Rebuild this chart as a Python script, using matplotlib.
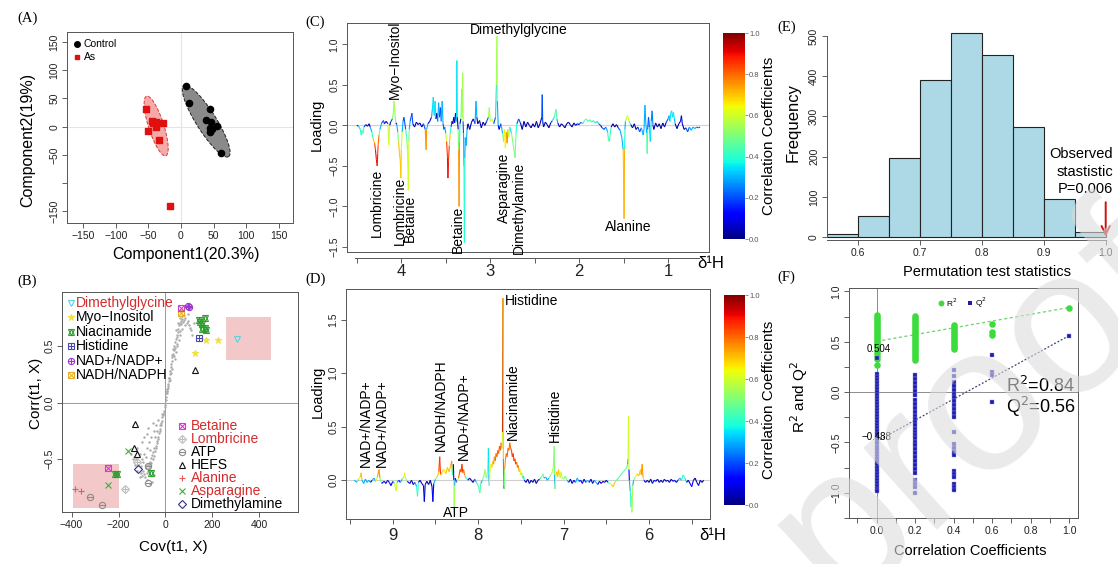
import numpy as np
import matplotlib
matplotlib.use("Agg")
import matplotlib.pyplot as plt
from matplotlib.collections import LineCollection
from matplotlib.patches import Rectangle
from matplotlib.colors import Normalize
from matplotlib.cm import ScalarMappable

plt.rcParams['font.family'] = ['Liberation Sans', 'DejaVu Sans']
plt.rcParams['axes.linewidth'] = 0.7

# ---------------- data ----------------
# (A) PCA scores
ctrl_x = [7, 13, 44, 39, 46, 56, 44, 44, 61, 48]
ctrl_y = [72, 42, 32, 12, 8, 1, -3, -9, -47, -5]
as_x = [-54, -44, -43, -39, -27, -38, -51, -34, -17]
as_y = [31, 10, 6, 9, 6, -1, -8, -23, -141]
# confidence ellipses: centre, half major axis, half minor axis
ell_ctrl = [(38.7, 9.9), (34.3, -63.1), (13.0, 9.2)]
ell_as = [(-38.1, 1.2), (14.75, -52.9), (11.1, 4.1)]

# (B) S-plot
cloud_x = [0, 2, -2, 4, -4, 6, -6, 8, -8, 10,
           -10, 12, -13, 14, -15, 16, -18, 18, -20, 20,
           -22, 22, -25, 24, -28, 27, -30, 30, -33, 33,
           35, 38, 40, 42, 45, 48, 50, 52, 55, 58,
           60, 62, 65, 68, 70, 72, 75, 78, 80, 85,
           90, 95, 100, 105, 110, 28, 32, 36, 44, 50,
           56, 64, 40, 26, 18, 24, 46, 54, 60, 48,
           70, 85, 95, 115, 120, 5, 9, 13, 3, 7,
           -35, -38, -40, -42, -45, -48, -50, -52, -55, -58,
           -60, -62, -65, -68, -70, -72, -75, -78, -80, -85,
           -90, -95, -100, -105, -110, -115, -120, -125, -130, -135,
           -140, -145, -60, -70, -80, -90, -100, -110, -50, -40,
           -30, -100, -90, -80, -120, -75, -55, -65, -85, -95,
           -105, -45, -35, -25, -15, -58, -68, -78, -88, -48]
cloud_y = [0.00, 0.02, -0.02, 0.05, -0.04, 0.08, -0.07, 0.10, -0.09, 0.13,
           -0.11, 0.16, -0.13, 0.19, -0.16, 0.22, -0.18, 0.25, -0.20, 0.28,
           -0.23, 0.31, -0.25, 0.34, -0.27, 0.37, -0.30, 0.40, -0.32, 0.43,
           0.46, 0.50, 0.48, 0.53, 0.56, 0.60, 0.58, 0.62, 0.65, 0.68,
           0.63, 0.70, 0.72, 0.69, 0.74, 0.76, 0.71, 0.73, 0.77, 0.75,
           0.70, 0.72, 0.68, 0.66, 0.64, 0.42, 0.47, 0.41, 0.45, 0.50,
           0.55, 0.60, 0.38, 0.30, 0.20, 0.26, 0.64, 0.70, 0.75, 0.52,
           0.65, 0.68, 0.78, 0.60, 0.70, 0.10, 0.15, 0.22, 0.08, 0.12,
           -0.36, -0.34, -0.40, -0.38, -0.43, -0.40, -0.47, -0.44, -0.50, -0.46,
           -0.53, -0.49, -0.56, -0.52, -0.58, -0.54, -0.60, -0.55, -0.62, -0.58,
           -0.63, -0.60, -0.65, -0.62, -0.66, -0.55, -0.60, -0.50, -0.55, -0.48,
           -0.50, -0.45, -0.30, -0.35, -0.40, -0.45, -0.50, -0.45, -0.25, -0.20,
           -0.15, -0.35, -0.30, -0.28, -0.40, -0.22, -0.18, -0.42, -0.48, -0.52,
           -0.56, -0.30, -0.25, -0.20, -0.10, -0.70, -0.72, -0.68, -0.66, -0.64]

b_lab = ['Dimethylglycine',
         'Myo−Inositol', 'Myo−Inositol', 'Myo−Inositol',
         'NADH/NADPH', 'Betaine', 'NAD+/NADP+', 'NAD+/NADP+',
         'Niacinamide', 'Niacinamide', 'Niacinamide', 'Niacinamide', 'Niacinamide',
         'Niacinamide', 'Niacinamide',
         'Niacinamide', 'Niacinamide', 'Niacinamide',
         'Histidine',
         'HEFS', 'HEFS', 'HEFS', 'HEFS',
         'Lombricine', 'Lombricine',
         'ATP', 'ATP', 'ATP', 'ATP',
         'Dimethylamine',
         'Asparagine', 'Asparagine',
         'Betaine',
         'Alanine', 'Alanine']
b_x = [305,
       173, 224, 128,
       67, 67, 94, 99,
       168, 146, 156, 170, 156,
       173, 142,
       -61, -213, -206,
       142,
       128, -131, -132, -121,
       -121, -173,
       -74, -74, -320, -270,
       -117,
       -161, -247,
       -244,
       -384, -362]
b_y = [0.563,
       0.55, 0.55, 0.44,
       0.79, 0.83, 0.85, 0.84,
       0.75, 0.71, 0.69, 0.66, 0.65,
       0.64, 0.73,
       -0.62, -0.63, -0.63,
       0.57,
       0.29, -0.185, -0.40, -0.45,
       -0.52, -0.76,
       -0.56, -0.71, -0.83, -0.90,
       -0.59,
       -0.43, -0.73,
       -0.58,
       -0.76, -0.78]
legend_up = ['Dimethylglycine', 'Myo−Inositol', 'Niacinamide', 'Histidine',
             'NAD+/NADP+', 'NADH/NADPH']
legend_low = ['Betaine', 'Lombricine', 'ATP', 'HEFS', 'Alanine', 'Asparagine',
              'Dimethylamine']
red_names = ['Dimethylglycine', 'Betaine', 'Lombricine', 'Alanine', 'Asparagine']
# highlighted regions (x0, x1, y0, y1)
regions = [(256, 452, 0.372, 0.754), (-394, -196, -0.93, -0.545)]

# (C) 1H NMR loading, 0.6-4.5 ppm
c_ppm = [4.50, 4.48, 4.46, 4.45, 4.44, 4.43, 4.42, 4.40, 4.38, 4.36,
         4.35, 4.33, 4.32, 4.30, 4.29, 4.28, 4.27, 4.265, 4.26, 4.25,
         4.24, 4.22, 4.20, 4.19, 4.17, 4.15, 4.14, 4.13, 4.12, 4.10,
         4.09, 4.08, 4.07, 4.06, 4.05, 4.04, 4.03, 4.02, 4.01, 4.005,
         4.00, 3.99, 3.98, 3.97, 3.96, 3.95, 3.94, 3.93, 3.92, 3.915,
         3.91, 3.90, 3.88, 3.87, 3.85, 3.83, 3.81, 3.79, 3.77, 3.75,
         3.73, 3.72, 3.715, 3.70, 3.68, 3.66, 3.65, 3.64, 3.63, 3.62,
         3.61, 3.60, 3.59, 3.58, 3.57, 3.56, 3.55, 3.54, 3.53, 3.52,
         3.51, 3.50, 3.49, 3.48, 3.475, 3.47, 3.46, 3.45, 3.44, 3.43,
         3.42, 3.41, 3.40, 3.39, 3.38, 3.375, 3.37, 3.36, 3.355, 3.35,
         3.345, 3.34, 3.33, 3.32, 3.315, 3.31, 3.305, 3.30, 3.295, 3.29,
         3.285, 3.28, 3.27, 3.26, 3.25, 3.23, 3.21, 3.19, 3.17, 3.16,
         3.15, 3.14, 3.12, 3.10, 3.08, 3.06, 3.04, 3.02, 3.01, 3.00,
         2.98, 2.96, 2.94, 2.93, 2.925, 2.92, 2.91, 2.90, 2.88, 2.86,
         2.85, 2.84, 2.83, 2.82, 2.81, 2.80, 2.79, 2.78, 2.76, 2.74,
         2.72, 2.71, 2.70, 2.68, 2.66, 2.64, 2.62, 2.60, 2.58, 2.56,
         2.54, 2.52, 2.50, 2.48, 2.46, 2.44, 2.42, 2.415, 2.41, 2.40,
         2.38, 2.36, 2.34, 2.32, 2.30, 2.28, 2.26, 2.25, 2.24, 2.22,
         2.20, 2.18, 2.16, 2.14, 2.12, 2.10, 2.08, 2.06, 2.04, 2.02,
         2.00, 1.98, 1.96, 1.94, 1.92, 1.90, 1.88, 1.86, 1.84, 1.82,
         1.80, 1.78, 1.76, 1.74, 1.72, 1.70, 1.68, 1.67, 1.66, 1.65,
         1.64, 1.62, 1.60, 1.58, 1.56, 1.54, 1.52, 1.505, 1.50, 1.495,
         1.49, 1.485, 1.48, 1.47, 1.46, 1.45, 1.44, 1.42, 1.40, 1.38,
         1.36, 1.34, 1.32, 1.30, 1.28, 1.27, 1.26, 1.25, 1.24, 1.235,
         1.23, 1.22, 1.21, 1.20, 1.19, 1.18, 1.17, 1.16, 1.14, 1.12,
         1.10, 1.08, 1.06, 1.04, 1.02, 1.00, 0.99, 0.98, 0.97, 0.96,
         0.95, 0.94, 0.93, 0.92, 0.90, 0.88, 0.86, 0.85, 0.84, 0.82,
         0.80, 0.78, 0.76, 0.74, 0.72, 0.70, 0.68, 0.66, 0.64]
c_load = [0.00, -0.01, -0.05, -0.12, -0.06, -0.10, -0.02, 0.01, -0.01, 0.02,
          -0.02, -0.08, -0.15, -0.22, -0.30, -0.42, -0.50, -0.35, -0.25, -0.12,
          -0.05, 0.03, 0.06, 0.02, 0.05, 0.02, -0.24, 0.00, 0.04, 0.08,
          0.15, 0.30, 0.12, 0.03, 0.01, -0.08, -0.20, -0.35, -0.45, -0.65,
          -0.30, -0.08, 0.05, 0.10, 0.03, -0.05, -0.15, -0.30, -0.80, -0.20,
          -0.05, 0.05, 0.15, 0.02, -0.02, 0.04, 0.01, 0.03, -0.02, 0.02,
          -0.05, -0.30, -0.05, 0.02, 0.05, 0.10, 0.20, 0.35, 0.12, 0.30,
          0.08, 0.15, 0.05, 0.28, 0.10, 0.22, 0.05, 0.30, 0.02, -0.05,
          -0.02, -0.10, -0.20, -0.40, -0.65, -0.45, -0.25, -0.10, -0.02, 0.05,
          0.02, 0.10, 0.03, 0.15, 0.05, 0.80, 0.10, -0.05, -0.30, -1.00,
          -0.20, 0.02, 0.08, 0.45, 0.10, 0.65, 0.05, -0.10, -0.50, -1.45,
          -0.40, -0.15, -0.25, -0.05, 0.02, -0.05, 0.04, 0.08, 0.02, 0.30,
          0.10, 0.02, 0.06, -0.03, 0.04, 0.00, 0.05, 0.10, 0.22, 0.05,
          0.08, 0.02, 0.10, 0.50, 1.10, 0.30, 0.00, -0.05, 0.02, -0.10,
          -0.20, -0.05, -0.28, -0.08, -0.22, -0.05, -0.15, -0.02, -0.10, -0.25,
          -0.40, -0.10, 0.02, 0.08, 0.03, -0.05, 0.05, -0.02, 0.04, 0.00,
          -0.03, 0.02, -0.02, 0.05, -0.03, 0.02, 0.10, 0.38, 0.05, -0.02,
          0.04, 0.01, -0.03, 0.03, 0.06, 0.10, 0.20, 0.08, 0.03, -0.02,
          0.02, 0.00, -0.03, 0.02, 0.04, 0.01, -0.02, 0.03, 0.00, 0.02,
          0.01, 0.04, 0.02, 0.06, 0.08, 0.05, 0.07, 0.04, 0.06, 0.03,
          0.05, 0.02, 0.00, -0.03, -0.05, -0.02, -0.08, -0.18, -0.20, -0.10,
          -0.02, 0.02, -0.02, 0.01, -0.03, -0.06, -0.15, -0.30, -0.60, -1.15,
          -0.30, -0.05, 0.05, 0.08, 0.12, 0.10, 0.05, 0.01, -0.03, 0.02,
          -0.05, -0.02, -0.08, -0.03, -0.12, -0.04, 0.25, 0.02, -0.10, -0.35,
          -0.05, 0.10, -0.02, -0.20, 0.05, 0.18, 0.00, -0.05, 0.03, -0.02,
          0.02, -0.04, 0.03, -0.02, 0.04, 0.08, 0.12, 0.05, 0.15, 0.18,
          0.10, 0.16, 0.08, 0.02, -0.04, 0.02, 0.05, 0.12, 0.02, -0.05,
          -0.03, -0.08, -0.02, -0.06, -0.02, -0.04, -0.02, -0.03, -0.02]
c_corr = [0.04, 0.08, 0.35, 0.40, 0.40, 0.45, 0.20, 0.04, 0.04, 0.04,
          0.08, 0.30, 0.40, 0.70, 0.85, 0.90, 0.88, 0.85, 0.80, 0.50,
          0.30, 0.08, 0.20, 0.04, 0.08, 0.04, 0.60, 0.04, 0.04, 0.20,
          0.50, 0.55, 0.50, 0.04, 0.04, 0.30, 0.50, 0.70, 0.70, 0.70,
          0.60, 0.30, 0.04, 0.20, 0.04, 0.20, 0.40, 0.50, 0.60, 0.50,
          0.30, 0.04, 0.20, 0.04, 0.04, 0.04, 0.04, 0.08, 0.04, 0.04,
          0.20, 0.75, 0.30, 0.04, 0.04, 0.08, 0.30, 0.35, 0.20, 0.35,
          0.04, 0.04, 0.02, 0.30, 0.02, 0.20, 0.02, 0.30, 0.04, 0.20,
          0.04, 0.30, 0.60, 0.85, 0.90, 0.85, 0.70, 0.40, 0.20, 0.04,
          0.02, 0.04, 0.02, 0.08, 0.02, 0.35, 0.04, 0.04, 0.50, 0.75,
          0.40, 0.02, 0.04, 0.50, 0.20, 0.55, 0.04, 0.20, 0.30, 0.40,
          0.30, 0.20, 0.30, 0.04, 0.02, 0.04, 0.02, 0.04, 0.02, 0.30,
          0.04, 0.02, 0.04, 0.02, 0.02, 0.02, 0.04, 0.20, 0.55, 0.20,
          0.60, 0.04, 0.20, 0.35, 0.55, 0.30, 0.04, 0.08, 0.02, 0.30,
          0.50, 0.30, 0.65, 0.30, 0.75, 0.40, 0.60, 0.20, 0.35, 0.50,
          0.50, 0.40, 0.04, 0.20, 0.04, 0.04, 0.04, 0.02, 0.04, 0.02,
          0.02, 0.02, 0.02, 0.04, 0.02, 0.02, 0.04, 0.20, 0.04, 0.02,
          0.04, 0.02, 0.02, 0.04, 0.20, 0.35, 0.45, 0.30, 0.04, 0.02,
          0.02, 0.02, 0.02, 0.02, 0.04, 0.02, 0.02, 0.02, 0.02, 0.04,
          0.02, 0.20, 0.30, 0.40, 0.45, 0.40, 0.45, 0.35, 0.40, 0.30,
          0.35, 0.20, 0.04, 0.04, 0.20, 0.04, 0.30, 0.40, 0.45, 0.40,
          0.04, 0.02, 0.02, 0.02, 0.04, 0.20, 0.30, 0.30, 0.70, 0.72,
          0.40, 0.20, 0.30, 0.50, 0.60, 0.60, 0.40, 0.04, 0.02, 0.02,
          0.04, 0.02, 0.20, 0.04, 0.30, 0.04, 0.30, 0.04, 0.30, 0.45,
          0.20, 0.20, 0.04, 0.35, 0.04, 0.25, 0.04, 0.04, 0.02, 0.02,
          0.02, 0.04, 0.02, 0.02, 0.04, 0.20, 0.30, 0.20, 0.35, 0.35,
          0.30, 0.35, 0.30, 0.04, 0.02, 0.02, 0.04, 0.08, 0.02, 0.02,
          0.02, 0.20, 0.04, 0.30, 0.30, 0.30, 0.20, 0.20, 0.04]
c_labels = [('Lombricine', 4.27, -1.38), ('Myo−Inositol', 4.07, 0.32),
            ('Lombricine', 4.02, -1.48), ('Betaine', 3.90, -1.44),
            ('Betaine', 3.36, -1.57), ('Asparagine', 2.85, -1.21),
            ('Dimethylamine', 2.68, -1.59)]

# (D) 1H NMR loading, 5.3-9.5 ppm
d_ppm = [9.45, 9.42, 9.40, 9.38, 9.37, 9.36, 9.34, 9.32, 9.30, 9.28,
         9.26, 9.24, 9.22, 9.20, 9.18, 9.16, 9.15, 9.13, 9.10, 9.08,
         9.06, 9.04, 9.02, 9.00, 8.98, 8.96, 8.95, 8.93, 8.91, 8.89,
         8.87, 8.86, 8.85, 8.83, 8.80, 8.78, 8.76, 8.74, 8.72, 8.71,
         8.70, 8.68, 8.66, 8.64, 8.63, 8.62, 8.60, 8.58, 8.56, 8.54,
         8.53, 8.52, 8.50, 8.48, 8.46, 8.45, 8.44, 8.42, 8.40, 8.38,
         8.36, 8.34, 8.32, 8.31, 8.30, 8.29, 8.285, 8.28, 8.275, 8.27,
         8.25, 8.23, 8.22, 8.21, 8.20, 8.19, 8.18, 8.17, 8.16, 8.14,
         8.12, 8.10, 8.08, 8.06, 8.04, 8.02, 8.00, 7.98, 7.97, 7.95,
         7.93, 7.92, 7.91, 7.90, 7.89, 7.88, 7.875, 7.87, 7.86, 7.85,
         7.84, 7.83, 7.82, 7.81, 7.80, 7.79, 7.78, 7.77, 7.76, 7.75,
         7.74, 7.73, 7.72, 7.715, 7.712, 7.71, 7.705, 7.70, 7.695, 7.69,
         7.68, 7.67, 7.66, 7.65, 7.64, 7.63, 7.62, 7.61, 7.60, 7.59,
         7.58, 7.57, 7.56, 7.55, 7.54, 7.53, 7.52, 7.51, 7.50, 7.49,
         7.48, 7.47, 7.46, 7.44, 7.42, 7.40, 7.38, 7.36, 7.34, 7.32,
         7.30, 7.28, 7.26, 7.24, 7.23, 7.21, 7.19, 7.17, 7.15, 7.13,
         7.12, 7.11, 7.105, 7.10, 7.09, 7.08, 7.07, 7.06, 7.05, 7.04,
         7.03, 7.02, 7.00, 6.98, 6.96, 6.94, 6.92, 6.90, 6.88, 6.86,
         6.84, 6.82, 6.80, 6.78, 6.76, 6.74, 6.72, 6.70, 6.68, 6.66,
         6.64, 6.62, 6.60, 6.58, 6.56, 6.54, 6.52, 6.50, 6.48, 6.46,
         6.44, 6.42, 6.40, 6.38, 6.36, 6.34, 6.32, 6.30, 6.28, 6.26,
         6.25, 6.245, 6.24, 6.235, 6.23, 6.22, 6.21, 6.205, 6.20, 6.19,
         6.18, 6.16, 6.14, 6.12, 6.10, 6.09, 6.08, 6.07, 6.06, 6.04,
         6.02, 6.00, 5.98, 5.96, 5.94, 5.92, 5.90, 5.88, 5.86, 5.84,
         5.82, 5.80, 5.78, 5.76, 5.74, 5.72, 5.70, 5.68, 5.66, 5.64,
         5.62, 5.60, 5.58, 5.56, 5.54, 5.52, 5.50, 5.48, 5.46, 5.44,
         5.42, 5.40, 5.38, 5.36]
d_load = [0.00, -0.02, 0.01, 0.03, 0.07, 0.00, -0.03, 0.01, -0.02, 0.00,
          -0.02, 0.00, 0.02, -0.01, 0.03, 0.10, 0.02, -0.03, -0.01, -0.03,
          0.00, -0.02, -0.05, -0.01, -0.03, -0.10, -0.02, 0.00, -0.02, 0.01,
          0.03, 0.07, 0.02, -0.01, -0.03, 0.00, -0.04, -0.02, -0.06, -0.15,
          -0.02, 0.00, -0.03, -0.05, -0.20, -0.04, -0.01, -0.04, 0.00, -0.06,
          -0.20, -0.03, 0.01, 0.03, 0.08, 0.22, 0.05, 0.08, 0.10, 0.06,
          0.12, 0.08, 0.14, 0.18, 0.05, 0.15, 0.00, -0.28, -0.05, 0.02,
          -0.02, 0.02, 0.06, 0.10, 0.08, 0.15, 0.07, 0.10, 0.05, 0.02,
          0.00, 0.02, 0.00, -0.02, 0.01, -0.02, -0.05, -0.12, -0.03, 0.00,
          0.05, 0.10, 0.04, 0.02, 0.08, 0.30, 0.05, -0.05, 0.10, 0.15,
          0.12, 0.18, 0.15, 0.22, 0.18, 0.25, 0.22, 0.28, 0.25, 0.32,
          0.28, 0.35, 0.30, 0.45, 0.95, 1.70, 0.20, -0.05, -0.08, 0.10,
          0.20, 0.25, 0.22, 0.30, 0.28, 0.35, 0.30, 0.28, 0.22, 0.25,
          0.18, 0.20, 0.15, 0.17, 0.12, 0.14, 0.08, 0.10, 0.05, 0.07,
          0.02, 0.04, 0.00, -0.02, 0.01, -0.03, 0.00, -0.02, 0.01, -0.03,
          0.00, 0.01, 0.03, 0.06, 0.02, 0.03, 0.00, 0.02, 0.05, 0.08,
          0.12, 0.32, 0.05, -0.08, 0.05, 0.08, 0.03, 0.10, 0.05, 0.02,
          0.08, 0.03, 0.01, 0.04, 0.00, -0.02, 0.01, -0.03, 0.00, -0.02,
          0.02, -0.01, 0.00, -0.03, 0.01, -0.02, 0.00, -0.02, 0.01, -0.03,
          0.00, -0.02, -0.04, -0.01, -0.03, -0.01, -0.02, 0.00, -0.02, -0.03,
          -0.04, -0.06, -0.02, 0.00, 0.02, 0.04, 0.06, 0.08, 0.10, 0.12,
          0.15, 0.20, 0.60, 0.10, 0.00, -0.10, -0.25, -0.15, -0.30, -0.05,
          0.00, 0.03, 0.06, 0.04, 0.10, 0.05, 0.15, 0.03, 0.00, -0.02,
          0.00, -0.02, 0.01, -0.03, 0.00, -0.01, 0.01, -0.02, 0.00, -0.02,
          0.01, -0.01, 0.00, -0.02, 0.01, -0.01, 0.00, -0.02, 0.00, 0.02,
          0.00, 0.05, 0.02, -0.02, 0.00, -0.03, -0.06, 0.00, 0.02, -0.02,
          -0.05, 0.00, -0.02, 0.00]
d_corr = [0.30, 0.30, 0.40, 0.60, 0.70, 0.30, 0.12, 0.30, 0.12, 0.30,
          0.04, 0.12, 0.30, 0.12, 0.60, 0.75, 0.50, 0.12, 0.04, 0.04,
          0.12, 0.04, 0.12, 0.04, 0.30, 0.60, 0.30, 0.12, 0.04, 0.30,
          0.50, 0.65, 0.50, 0.12, 0.04, 0.04, 0.04, 0.04, 0.30, 0.40,
          0.12, 0.04, 0.04, 0.04, 0.08, 0.04, 0.04, 0.04, 0.04, 0.04,
          0.12, 0.04, 0.30, 0.50, 0.70, 0.85, 0.70, 0.70, 0.65, 0.60,
          0.70, 0.65, 0.70, 0.75, 0.40, 0.12, 0.12, 0.55, 0.30, 0.12,
          0.04, 0.60, 0.80, 0.85, 0.85, 0.85, 0.80, 0.80, 0.70, 0.40,
          0.12, 0.04, 0.04, 0.04, 0.12, 0.30, 0.40, 0.45, 0.30, 0.12,
          0.50, 0.55, 0.40, 0.30, 0.50, 0.35, 0.30, 0.12, 0.60, 0.65,
          0.65, 0.70, 0.70, 0.75, 0.75, 0.80, 0.80, 0.80, 0.80, 0.82,
          0.82, 0.80, 0.60, 0.30, 0.95, 0.70, 0.30, 0.04, 0.04, 0.50,
          0.75, 0.80, 0.80, 0.80, 0.80, 0.75, 0.80, 0.85, 0.85, 0.85,
          0.85, 0.85, 0.85, 0.80, 0.80, 0.75, 0.70, 0.65, 0.55, 0.50,
          0.40, 0.35, 0.12, 0.04, 0.04, 0.04, 0.04, 0.04, 0.04, 0.04,
          0.04, 0.12, 0.40, 0.50, 0.30, 0.30, 0.12, 0.30, 0.50, 0.55,
          0.55, 0.50, 0.30, 0.12, 0.60, 0.70, 0.60, 0.70, 0.65, 0.50,
          0.60, 0.50, 0.40, 0.50, 0.30, 0.12, 0.04, 0.04, 0.12, 0.04,
          0.30, 0.12, 0.04, 0.04, 0.12, 0.04, 0.30, 0.12, 0.04, 0.04,
          0.12, 0.30, 0.12, 0.04, 0.04, 0.12, 0.04, 0.04, 0.04, 0.40,
          0.60, 0.70, 0.50, 0.40, 0.40, 0.45, 0.45, 0.45, 0.45, 0.40,
          0.30, 0.12, 0.60, 0.12, 0.04, 0.30, 0.40, 0.45, 0.55, 0.30,
          0.12, 0.50, 0.65, 0.70, 0.70, 0.65, 0.75, 0.50, 0.12, 0.04,
          0.04, 0.04, 0.04, 0.04, 0.12, 0.04, 0.04, 0.04, 0.04, 0.04,
          0.12, 0.04, 0.04, 0.04, 0.04, 0.12, 0.04, 0.04, 0.12, 0.30,
          0.30, 0.40, 0.35, 0.12, 0.04, 0.04, 0.12, 0.04, 0.04, 0.04,
          0.12, 0.04, 0.04, 0.04]
d_labels = [('NAD+/NADP+', 9.32, 0.128), ('NAD+/NADP+', 9.13, 0.128),
            ('NADH/NADPH', 8.44, 0.27), ('NAD+/NADP+', 8.17, 0.19),
            ('Niacinamide', 7.59, 0.378), ('Histidine', 7.10, 0.353)]

# (E) permutation test histogram
perm_edges = [0.55, 0.60, 0.65, 0.70, 0.75, 0.80, 0.85, 0.90, 0.95, 1.00]
perm_counts = [8, 52, 197, 390, 508, 452, 273, 96, 12]
observed_stat = 1.0
p_value = 0.006

# (F) validation by permutation
perm_levels = [0.0, 0.2, 0.4, 0.6, 1.0]
r2_groups = [
    [0.27, 0.33, 0.36, 0.39, 0.42, 0.45, 0.47, 0.49, 0.51, 0.53, 0.55, 0.57,
     0.59, 0.61, 0.63, 0.65, 0.67, 0.69, 0.71, 0.73, 0.75, 0.77],
    [0.32, 0.34, 0.36, 0.38, 0.40, 0.42, 0.44, 0.46, 0.48, 0.50, 0.52, 0.54,
     0.56, 0.58, 0.60, 0.62, 0.64, 0.66, 0.68, 0.70, 0.72, 0.74, 0.76],
    [0.43, 0.45, 0.47, 0.49, 0.51, 0.53, 0.55, 0.57, 0.59, 0.61, 0.63, 0.65, 0.67],
    [0.57, 0.60, 0.68],
    [0.84]]
q2_groups = [
    [0.34, 0.18, 0.15, 0.12, 0.09, 0.06, 0.03, 0.00, -0.03, -0.06, -0.09, -0.12,
     -0.15, -0.18, -0.21, -0.24, -0.27, -0.30, -0.33, -0.36, -0.39, -0.42, -0.45,
     -0.48, -0.51, -0.54, -0.57, -0.60, -0.63, -0.66, -0.69, -0.72, -0.75, -0.78,
     -0.81, -0.84, -0.87, -0.90, -0.93, -0.96, -0.98],
    [0.17, 0.13, 0.09, 0.05, 0.01, -0.03, -0.08, -0.12, -0.16, -0.20, -0.24,
     -0.27, -0.30, -0.33, -0.37, -0.40, -0.43, -0.46, -0.50, -0.53, -0.56, -0.60,
     -0.64, -0.68, -0.72, -0.76, -0.80, -0.87, -0.91, -0.94, -1.00],
    [0.22, 0.16, 0.10, 0.06, 0.02, -0.02, -0.05, -0.09, -0.13, -0.17, -0.21,
     -0.25, -0.40, -0.52, -0.55, -0.59, -0.62, -0.78, -0.81, -0.84, -0.91, -0.94, -0.97],
    [0.37, 0.20, 0.17, -0.10],
    [0.56]]
r2_intercept, r2_final = 0.504, 0.84
q2_intercept, q2_final = -0.488, 0.56

# ---------------- styles ----------------
sym = {
    'Dimethylglycine': ([('v', False)], '#5fd0e0'),
    'Myo−Inositol': ([('*', True)], '#f0e040'),
    'Niacinamide': ([('^', False), ('v', False)], '#2e9e2e'),
    'Histidine': ([('s', False), ('+', True)], '#4848b0'),
    'NAD+/NADP+': ([('o', False), ('+', True)], '#9838d0'),
    'NADH/NADPH': ([('s', False), ('x', True)], '#e0b030'),
    'Betaine': ([('s', False), ('x', True)], '#d040d0'),
    'Lombricine': ([('D', False), ('+', True)], '#bdbdbd'),
    'ATP': ([('o', False), ('_', True)], '#8c8c8c'),
    'HEFS': ([('^', False)], '#111111'),
    'Alanine': ([('+', True)], '#f05858'),
    'Asparagine': ([('x', True)], '#3cb03c'),
    'Dimethylamine': ([('D', False)], '#303088'),
}
RED = '#d42c2c'
W, H = 1118, 564
fig = plt.figure(figsize=(W / 100, H / 100), dpi=100)


def box(l, t, r, b):
    return fig.add_axes([l / W, 1 - b / H, (r - l) / W, (b - t) / H])


def rstyle(ax, size=7.5, pad=2):
    for s in ax.spines.values():
        s.set_color('#555555')
    ax.tick_params(direction='out', length=3.5, width=0.6, labelsize=size, pad=pad,
                   color='#444444', labelcolor='#222222')
    ax.tick_params(axis='y', labelrotation=90)
    for lab in ax.get_yticklabels():
        lab.set_verticalalignment('center')


def draw_sym(ax, xs, ys, name, ms=4.5, **kw):
    parts, col = sym[name]
    for mk, filled in parts:
        ax.plot(xs, ys, ls='none', marker=mk, ms=ms, mfc=col if filled else 'none',
                mec=col, mew=0.8, **kw)


def panel_tag(x, y, s):
    fig.text(x / W, 1 - y / H, s, fontsize=10.5, family='Liberation Serif',
             ha='left', va='center')


norm = Normalize(0, 1)


def spectrum(ax, ppm, load, corr):
    pts = np.column_stack([ppm, load])
    segs = np.stack([pts[:-1], pts[1:]], axis=1)
    cv = np.maximum(np.array(corr[:-1]), np.array(corr[1:]))
    lc = LineCollection(segs, cmap='jet', norm=norm, lw=0.8)
    lc.set_array(cv)
    ax.add_collection(lc)


def colorbar(l, t, r, b):
    cax = box(l, t, r, b)
    cb = fig.colorbar(ScalarMappable(norm=norm, cmap='jet'), cax=cax)
    cb.outline.set_visible(False)
    cb.set_ticks([0, 0.2, 0.4, 0.6, 0.8, 1.0])
    cax.tick_params(labelsize=5.5, length=2, width=0.5, pad=1, color='#666666',
                    labelcolor='#555555')
    cax.set_ylabel('Correlation Coefficients', fontsize=11, labelpad=2)


# ---------------- (A) ----------------
axA = box(67, 32, 293, 223)
axA.set_xlim(-175, 172)
axA.set_ylim(-171, 168)
axA.axhline(0, color='#e4e4e4', lw=0.8, zorder=0)
axA.axvline(0, color='#e4e4e4', lw=0.8, zorder=0)
t = np.linspace(0, 2 * np.pi, 200)
for (c, m, n), fc, ec in [(ell_ctrl, '#8a8a8a', '#222222'), (ell_as, '#f6a9a9', '#d04040')]:
    ex = c[0] + m[0] * np.cos(t) + n[0] * np.sin(t)
    ey = c[1] + m[1] * np.cos(t) + n[1] * np.sin(t)
    axA.fill(ex, ey, fc=fc, ec=ec, lw=0.7, ls='--', zorder=1)
axA.scatter(ctrl_x, ctrl_y, s=20, c='black', marker='o', zorder=3)
axA.scatter(as_x, as_y, s=15, c='#e01010', marker='s', zorder=3)
axA.set_xticks([-150, -100, -50, 0, 50, 100, 150])
axA.set_yticks([-150, -100, -50, 0, 50, 100, 150])
axA.set_yticklabels(['−150', '', '−50', '0', '50', '100', '150'])
rstyle(axA)
axA.plot([0.044], [0.937], 'o', color='black', ms=4, transform=axA.transAxes)
axA.plot([0.044], [0.869], 's', color='#e01010', ms=3.5, transform=axA.transAxes)
axA.text(0.075, 0.937, 'Control', fontsize=7.5, va='center', transform=axA.transAxes)
axA.text(0.075, 0.869, 'As', fontsize=7.5, va='center', transform=axA.transAxes)
axA.set_xlabel('Component1(20.3%)', fontsize=11.5)
axA.set_ylabel('Component2(19%)', fontsize=11.5)
axA.xaxis.set_label_coords(0.525, -0.126)
axA.yaxis.set_label_coords(-0.142, 0.435)
panel_tag(17, 18, '(A)')

# ---------------- (B) ----------------
axB = box(62, 292, 298, 512)
axB.set_xlim(-441, 565)
axB.set_ylim(-0.965, 0.975)
axB.axhline(0, color='#999999', lw=0.7, zorder=0)
axB.axvline(0, color='#999999', lw=0.7, zorder=0)
for x0, x1, y0, y1 in regions:
    axB.add_patch(Rectangle((x0, y0), x1 - x0, y1 - y0, fc='#f2c8c8', ec='none', zorder=0.5))
axB.scatter(cloud_x, cloud_y, s=3, c='#ababab', lw=0, zorder=1)
for name in sym:
    xs = [x for x, lab in zip(b_x, b_lab) if lab == name]
    ys = [y for y, lab in zip(b_y, b_lab) if lab == name]
    draw_sym(axB, xs, ys, name, zorder=3)
axB.set_xticks([-400, -200, 0, 200, 400])
axB.set_yticks([-0.5, 0.0, 0.5])
rstyle(axB)
for i, name in enumerate(legend_up):
    yy = (512 - (303 + 14.4 * i)) / 220
    draw_sym(axB, [0.038], [yy], name, transform=axB.transAxes, clip_on=False)
    axB.text(0.058, yy, name, fontsize=10, va='center', transform=axB.transAxes,
             color=RED if name in red_names else 'black')
for i, name in enumerate(legend_low):
    yy = (512 - (426 + 13.0 * i)) / 220
    draw_sym(axB, [0.508], [yy], name, transform=axB.transAxes, clip_on=False)
    axB.text(0.548, yy, name, fontsize=10, va='center', transform=axB.transAxes,
             color=RED if name in red_names else 'black')
axB.set_xlabel('Cov(t1, X)', fontsize=11)
axB.set_ylabel('Corr(t1, X)', fontsize=11)
axB.xaxis.set_label_coords(0.47, -0.127)
axB.yaxis.set_label_coords(-0.08, 0.54)
panel_tag(17, 281, '(B)')

# ---------------- (C) ----------------
axC = box(347, 23, 709, 252)
axC.set_xlim(4.61, 0.54)
axC.set_ylim(-1.563, 1.264)
axC.axhline(0, color='#eccaca', lw=0.8, zorder=0)
spectrum(axC, c_ppm, c_load, c_corr)
for s, x, y in c_labels:
    axC.text(x, y, s, rotation=90, fontsize=10, ha='center', va='bottom',
             rotation_mode='default', clip_on=False)
axC.text(2.684, 1.18, 'Dimethylglycine', fontsize=10, ha='center', va='center')
axC.text(1.45, -1.26, 'Alanine', fontsize=10, ha='center', va='center')
axC.set_xticks([4.5, 4, 3.5, 3, 2.5, 2, 1.5, 1])
axC.set_xticklabels(['', '4', '', '3', '', '2', '', '1'])
axC.set_yticks([-1.5, -1.0, -0.5, 0.0, 0.5, 1.0])
rstyle(axC)
axC.tick_params(axis='x', labelsize=12, pad=1)
axC.spines['bottom'].set_position(('outward', 4))
axC.spines['bottom'].set_bounds(4.52, 0.65)
axC.plot([0, 1], [0, 0], transform=axC.transAxes, color='#555555', lw=0.7, clip_on=False)
axC.set_ylabel('Loading', fontsize=10.5)
axC.yaxis.set_label_coords(-0.064, 0.555)
fig.text(711 / W, 1 - 263 / H, 'δ¹H', fontsize=12, ha='center', va='center')
colorbar(723, 33, 745, 239)
panel_tag(305, 22, '(C)')

# ---------------- (D) ----------------
axD = box(346, 289, 710, 519)
axD.set_xlim(9.547, 5.286)
axD.set_ylim(-0.362, 1.787)
axD.axhline(0, color='#cfcfcf', lw=0.8, zorder=0)
spectrum(axD, d_ppm, d_load, d_corr)
for s, x, y in d_labels:
    axD.text(x, y, s, rotation=90, fontsize=10, ha='center', va='bottom')
axD.text(7.69, 1.675, 'Histidine', fontsize=10, ha='left', va='center')
axD.text(8.26, -0.31, 'ATP', fontsize=10, ha='center', va='center')
axD.set_xticks([9.5, 9, 8.5, 8, 7.5, 7, 6.5, 6, 5.5])
axD.set_xticklabels(['', '9', '', '8', '', '7', '', '6', ''])
axD.set_yticks([0.0, 0.5, 1.0, 1.5])
rstyle(axD)
axD.tick_params(axis='x', labelsize=12, pad=3)
axD.set_ylabel('Loading', fontsize=10.5)
axD.yaxis.set_label_coords(-0.058, 0.553)
fig.text(713 / W, 1 - 535 / H, 'δ¹H', fontsize=12, ha='center', va='center')
colorbar(724, 295, 745, 505)
panel_tag(305, 279, '(D)')

# ---------------- (E) ----------------
axE = box(826.7, 27.9, 1115, 240.1)
axE.set_xlim(0.55, 1.015)
axE.set_ylim(-7, 520)
axE.bar(perm_edges[:-1], perm_counts, width=np.diff(perm_edges), align='edge',
        color='#add8e6', edgecolor='#222222', lw=0.8)
for s in ['top', 'right']:
    axE.spines[s].set_visible(False)
axE.spines['left'].set_bounds(0, 500)
axE.spines['bottom'].set_bounds(0.55, 1.0)
axE.set_xticks([0.6, 0.7, 0.8, 0.9, 1.0])
axE.set_yticks([0, 100, 200, 300, 400, 500])
rstyle(axE)
axE.annotate('', xy=(observed_stat, -5), xytext=(observed_stat, 94),
             arrowprops=dict(arrowstyle='->,head_length=0.6,head_width=0.3',
                             color='#cc1111', lw=1.4))
axE.text(1.0115, 207, 'Observed', fontsize=10.5, ha='right', va='center')
axE.text(1.0115, 163, 'stastistic', fontsize=10.5, ha='right', va='center')
axE.text(1.0115, 119, 'P=%.3f' % p_value, fontsize=10.5, ha='right', va='center')
axE.set_xlabel('Permutation test statistics', fontsize=10.5)
axE.set_ylabel('Frequency', fontsize=12)
axE.xaxis.set_label_coords(0.555, -0.115)
axE.yaxis.set_label_coords(-0.089, 0.552)
panel_tag(777, 27, '(E)')

# ---------------- (F) ----------------
axF = box(849, 288, 1078, 518)
axF.set_xlim(-0.144, 1.047)
axF.set_ylim(-1.24, 1.034)
axF.axhline(0, color='#8c8c8c', lw=0.7, zorder=0)
axF.axvline(0, color='#8c8c8c', lw=0.7, zorder=0)
for lv, vals in zip(perm_levels, r2_groups):
    axF.scatter([lv] * len(vals), vals, s=22, c='#3ddc3d', lw=0, zorder=2)
for lv, vals in zip(perm_levels, q2_groups):
    axF.scatter([lv] * len(vals), vals, s=10, marker='s', c='#1c1cb0',
                edgecolors='#8c8ce0', lw=0.3, zorder=3)
axF.plot([0, 1], [r2_intercept, r2_final], ls=(0, (2.5, 2)), color='#70d070', lw=0.9, zorder=1)
axF.plot([0, 1], [q2_intercept, q2_final], ls=(0, (1.5, 1.5)), color='#404070', lw=0.9, zorder=1)
axF.text(0.01, 0.43, '%.3f' % r2_intercept, fontsize=7, ha='center', va='center')
axF.text(0.0, -0.45, '−%.3f' % abs(q2_intercept), fontsize=7, ha='center', va='center')
axF.text(0.67, 0.06, 'R$^2$=%.2f' % r2_final, fontsize=13, ha='left', va='center')
axF.text(0.67, -0.15, 'Q$^2$=%.2f' % q2_final, fontsize=13, ha='left', va='center')
axF.scatter([0.337], [0.89], s=18, c='#3ddc3d', lw=0)
axF.text(0.36, 0.89, 'R$^2$', fontsize=6, va='center')
axF.scatter([0.485], [0.89], s=7, marker='s', c='#1c1cb0', lw=0)
axF.text(0.51, 0.89, 'Q$^2$', fontsize=6, va='center')
axF.set_xticks(np.arange(-0.1, 1.01, 0.1))
axF.set_xticklabels(['', '0.0', '', '0.2', '', '0.4', '', '0.6', '', '0.8', '', '1.0'])
axF.set_yticks([-1.25, -1.0, -0.75, -0.5, -0.25, 0.0, 0.25, 0.5, 0.75, 1.0])
axF.set_yticklabels(['', '−1.0', '', '−0.5', '', '0.0', '', '0.5', '', '1.0'])
rstyle(axF)
axF.set_xlabel('Correlation Coefficients', fontsize=10.5)
axF.set_ylabel('R$^2$ and Q$^2$', fontsize=11)
axF.xaxis.set_label_coords(0.528, -0.115)
axF.yaxis.set_label_coords(-0.172, 0.527)
panel_tag(777, 277, '(F)')

# watermark
fig.text(978 / W, 1 - 408 / H, 'proof', rotation=42, fontsize=150, color='#dcdcdc',
         alpha=0.6, ha='center', va='center', zorder=100)

fig.savefig('out.png', dpi=100)
